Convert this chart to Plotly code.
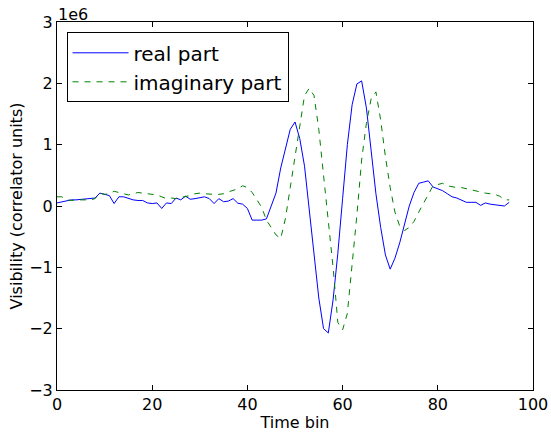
import plotly.graph_objects as go

# Time bins
time_bin = list(range(96))

# Values in units of 1e6 (correlator units)
real_part = [
    0.05, 0.07, 0.09, 0.10, 0.10, 0.11, 0.11, 0.12, 0.13, 0.21,
    0.19, 0.17, 0.04, 0.15, 0.15, 0.12, 0.10, 0.09, 0.09, 0.05,
    0.04, 0.05, -0.04, 0.05, 0.04, 0.13, 0.10, 0.16, 0.11, 0.12,
    0.14, 0.15, 0.12, 0.04, 0.12, 0.07, 0.08, 0.12, 0.045, 0.03,
    -0.04, -0.23, -0.23, -0.23, -0.21, 0.00, 0.21, 0.62, 0.95, 1.25,
    1.37, 1.10, 0.65, -0.05, -0.78, -1.50, -2.00, -2.07, -1.53, -0.77,
    0.12, 1.00, 1.65, 1.99, 2.04, 1.60, 0.90, 0.20, -0.35, -0.80,
    -1.03, -0.85, -0.60, -0.30, 0.00, 0.22, 0.37, 0.39, 0.41, 0.31,
    0.28, 0.25, 0.20, 0.15, 0.13, 0.10, 0.06, 0.06, 0.06, 0.01,
    0.05, 0.03, 0.02, 0.01, 0.00, 0.06,
]

imag_part = [
    0.15, 0.15, 0.10, 0.09, 0.10, 0.10, 0.11, 0.10, 0.12, 0.21,
    0.19, 0.20, 0.24, 0.22, 0.20, 0.18, 0.20, 0.22, 0.21, 0.20,
    0.20, 0.18, 0.15, 0.12, 0.13, 0.12, 0.14, 0.15, 0.17, 0.20,
    0.21, 0.20, 0.19, 0.19, 0.19, 0.20, 0.23, 0.26, 0.28, 0.33,
    0.30, 0.22, 0.10, -0.02, -0.23, -0.35, -0.47, -0.53, -0.20, 0.30,
    0.80, 1.35, 1.80, 1.92, 1.80, 1.25, 0.50, -0.25, -1.00, -1.90,
    -2.02, -1.75, -1.00, -0.15, 0.75, 1.35, 1.75, 1.86, 1.40, 0.80,
    0.30, -0.10, -0.33, -0.40, -0.35, -0.25, -0.10, 0.05, 0.20, 0.33,
    0.35, 0.37, 0.33, 0.31, 0.30, 0.30, 0.28, 0.27, 0.24, 0.22,
    0.21, 0.20, 0.19, 0.16, 0.10, 0.10,
]

x_ticks = [0, 20, 40, 60, 80, 100]
y_ticks = [-3, -2, -1, 0, 1, 2, 3]
y_tick_labels = ["\u22123", "\u22122", "\u22121", "0", "1", "2", "3"]

FONT = "DejaVu Sans"

fig = go.Figure()
fig.add_trace(go.Scatter(
    x=time_bin, y=real_part, mode="lines", name="real part",
    line=dict(color="#0000ff", width=1),
))
fig.add_trace(go.Scatter(
    x=time_bin, y=imag_part, mode="lines", name="imaginary part",
    line=dict(color="#008000", width=1, dash="6px,6px"),
))

axis_common = dict(
    showline=True, linecolor="black", linewidth=1, mirror="ticks",
    ticks="inside", ticklen=5, tickcolor="black", tickwidth=1,
    showgrid=False, zeroline=False, automargin=False,
    tickfont=dict(family=FONT, size=16, color="black"),
)

fig.update_layout(
    width=551, height=432,
    margin=dict(l=57, r=18, t=22, b=42),
    paper_bgcolor="white", plot_bgcolor="white",
    font=dict(family=FONT, color="black"),
    xaxis=dict(range=[0, 100], tickvals=x_ticks,
               title=dict(text="Time bin", font=dict(family=FONT, size=16), standoff=5),
               **axis_common),
    yaxis=dict(range=[-3, 3], tickvals=y_ticks, ticktext=y_tick_labels,
               title=dict(text="Visibility (correlator units)", font=dict(family=FONT, size=16), standoff=2),
               **axis_common),
    legend=dict(
        x=0.02, y=0.972, xanchor="left", yanchor="top",
        bordercolor="black", borderwidth=1, bgcolor="white",
        font=dict(family=FONT, size=20, color="black"),
        traceorder="normal", itemwidth=56,
    ),
    showlegend=True,
)

fig.add_annotation(
    text="1e6", xref="paper", yref="paper", x=0, y=1, xanchor="left", yanchor="bottom",
    showarrow=False, font=dict(family=FONT, size=16, color="black"), xshift=-1, yshift=-4,
)

fig.write_html(
    "out.html",
    config={"displayModeBar": False},
    post_script="document.body.style.margin='0';document.body.style.padding='0';document.body.style.overflow='hidden';",
)
